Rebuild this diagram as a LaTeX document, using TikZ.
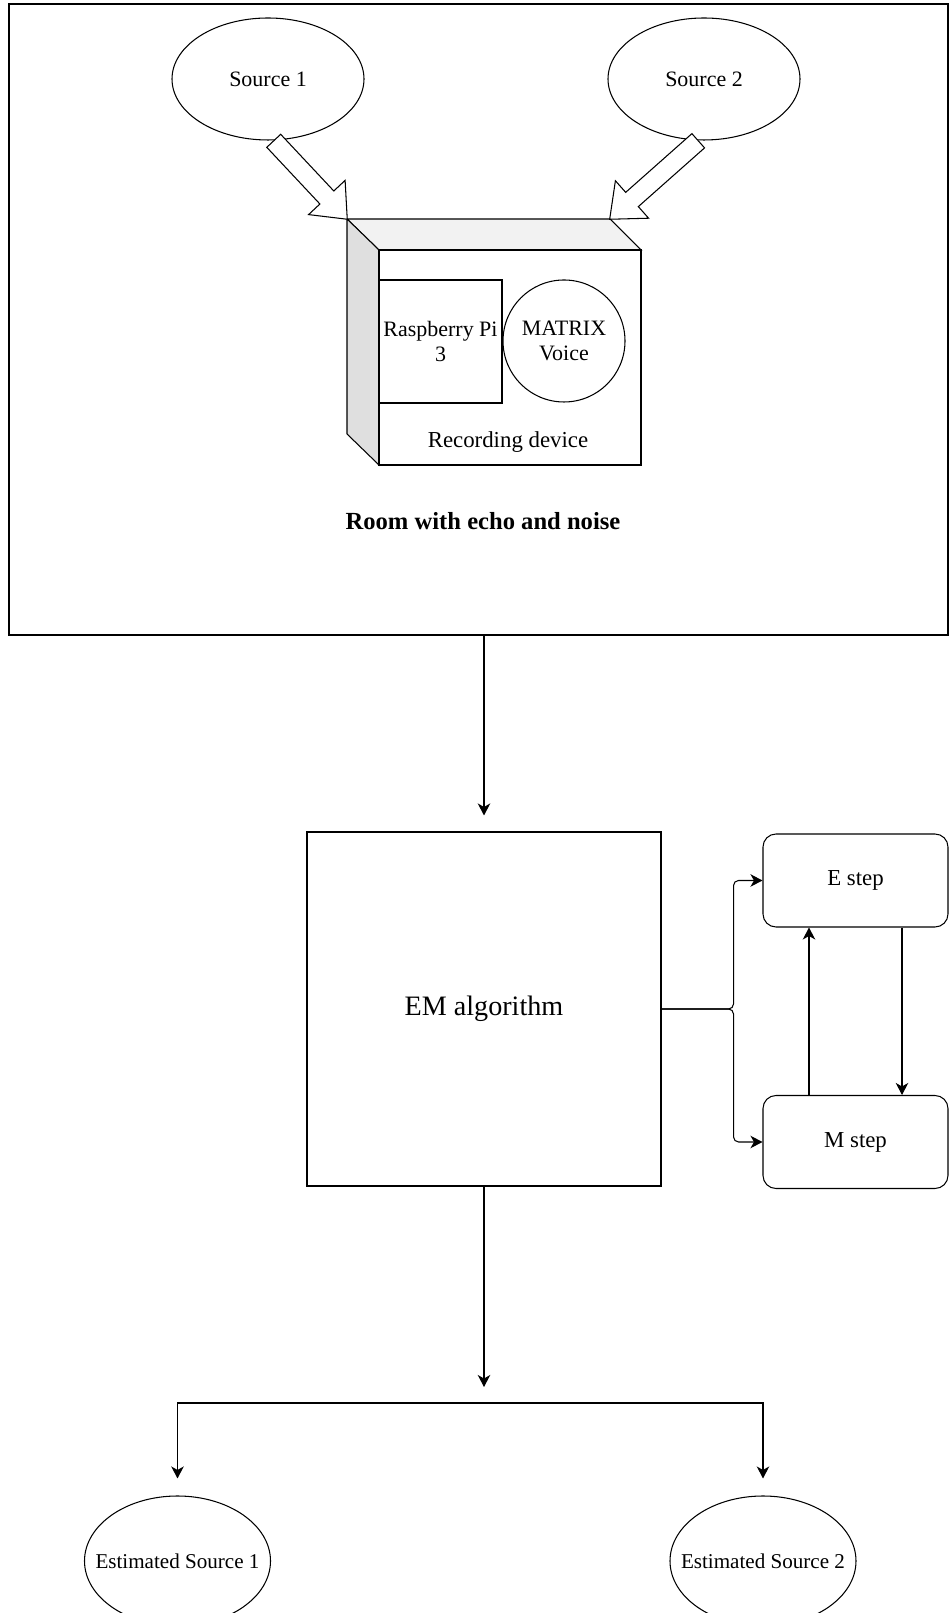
\documentclass[tikz,border=0pt]{standalone}
\usepackage{fontspec}
\setmainfont{Liberation Serif}
\usetikzlibrary{arrows.meta,shapes.geometric,shapes.arrows,calc}
\tikzset{
  line/.style={line width=0.6pt},
  arr/.style={line,-{Stealth[length=0.24cm,width=0.25cm,inset=0.07cm]}},
  srcnode/.style={ellipse,draw,line,minimum width=3.84cm,minimum height=2.44cm,inner sep=0pt,font=\fontsize{12.5}{14.5}\selectfont},
  stepbox/.style={rectangle,draw,line,rounded corners=0.26cm,minimum width=3.7cm,minimum height=1.86cm,font=\fontsize{13}{15}\selectfont},
  blockarrow/.style={single arrow,draw,line,fill=white,inner sep=0.18cm,single arrow head extend=0.31cm,single arrow tip angle=80,anchor=tail}
}
\begin{document}
\begin{tikzpicture}
\useasboundingbox (0,0) rectangle (18.98,32.26);
\node[draw,line,minimum width=18.78cm,minimum height=12.62cm] (room) at (9.57,25.87) {};
\node[font=\fontsize{14}{17}\selectfont\bfseries] (roomlbl) at (9.66,21.84) {Room with echo and noise};
\node[srcnode] (src1) at (5.36,30.68) {Source 1};
\node[srcnode] (src2) at (14.08,30.68) {Source 2};
\coordinate (cubenw) at (6.94,27.88);
\coordinate (cubene) at (12.2,27.88);
\filldraw[line,fill=gray!10] (cubenw)--(cubene)--(12.82,27.26)--(7.58,27.26)--cycle;
\filldraw[line,fill=gray!25] (cubenw)--(7.58,27.26)--(7.58,22.96)--(6.94,23.58)--cycle;
\node[draw,line,fill=white,minimum width=5.24cm,minimum height=4.3cm] (device) at (10.2,25.11) {};
\node[draw,line,minimum width=2.46cm,minimum height=2.46cm,inner sep=0pt,align=center,font=\fontsize{12.5}{14.5}\selectfont] (rpi) at (8.81,25.43) {Raspberry Pi\\3};
\node[circle,draw,line,minimum size=2.44cm,inner sep=0pt,align=center,font=\fontsize{12.5}{14.5}\selectfont] (matrix) at (11.28,25.44) {MATRIX\\Voice};
\node[font=\fontsize{13}{15}\selectfont] (devlbl) at (10.16,23.42) {Recording device};
\path let \p1=($(cubenw)-(src1.275)$), \n1={atan2(\y1,\x1)}, \n2={veclen(\x1,\y1)} in
  node[blockarrow,rotate=\n1,minimum height=\n2] (barr1) at (src1.275) {};
\path let \p1=($(cubene)-(src2.265)$), \n1={atan2(\y1,\x1)}, \n2={veclen(\x1,\y1)} in
  node[blockarrow,rotate=\n1,minimum height=\n2] (barr2) at (src2.265) {};
\node[draw,line,minimum width=7.08cm,minimum height=7.08cm,font=\fontsize{16}{19}\selectfont] (em) at (9.68,12.08) {EM algorithm};
\node[stepbox] (estep) at (17.11,14.65) {E step};
\node[stepbox] (mstep) at (17.11,9.42) {M step};
\draw[arr,shorten >=0.32cm] (room.south -| em.north) -- (em.north);
\draw[arr,rounded corners=0.1cm] (em.east) -- ++(1.44,0) |- (estep.west);
\draw[arr,rounded corners=0.1cm] (em.east) -- ++(1.44,0) |- (mstep.west);
\draw[arr] ([xshift=-0.93cm]mstep.north) -- ([xshift=-0.93cm]estep.south);
\draw[arr] ([xshift=0.93cm]estep.south) -- ([xshift=0.93cm]mstep.north);
\node[srcnode,minimum width=3.72cm,minimum height=2.6cm,label={[font=\fontsize{12}{14}\selectfont]center:Estimated Source 1}] (est1) at (3.55,1.04) {};
\node[srcnode,minimum width=3.72cm,minimum height=2.6cm,label={[font=\fontsize{12}{14}\selectfont]center:Estimated Source 2}] (est2) at (15.26,1.04) {};
\coordinate (fork) at (9.68,4.2);
\draw[arr,shorten >=0.32cm] (em.south) -- (fork);
\draw[arr,shorten >=0.34cm] (fork) -| (est1.north);
\draw[arr,shorten >=0.34cm] (fork) -| (est2.north);
\end{tikzpicture}
\end{document}
